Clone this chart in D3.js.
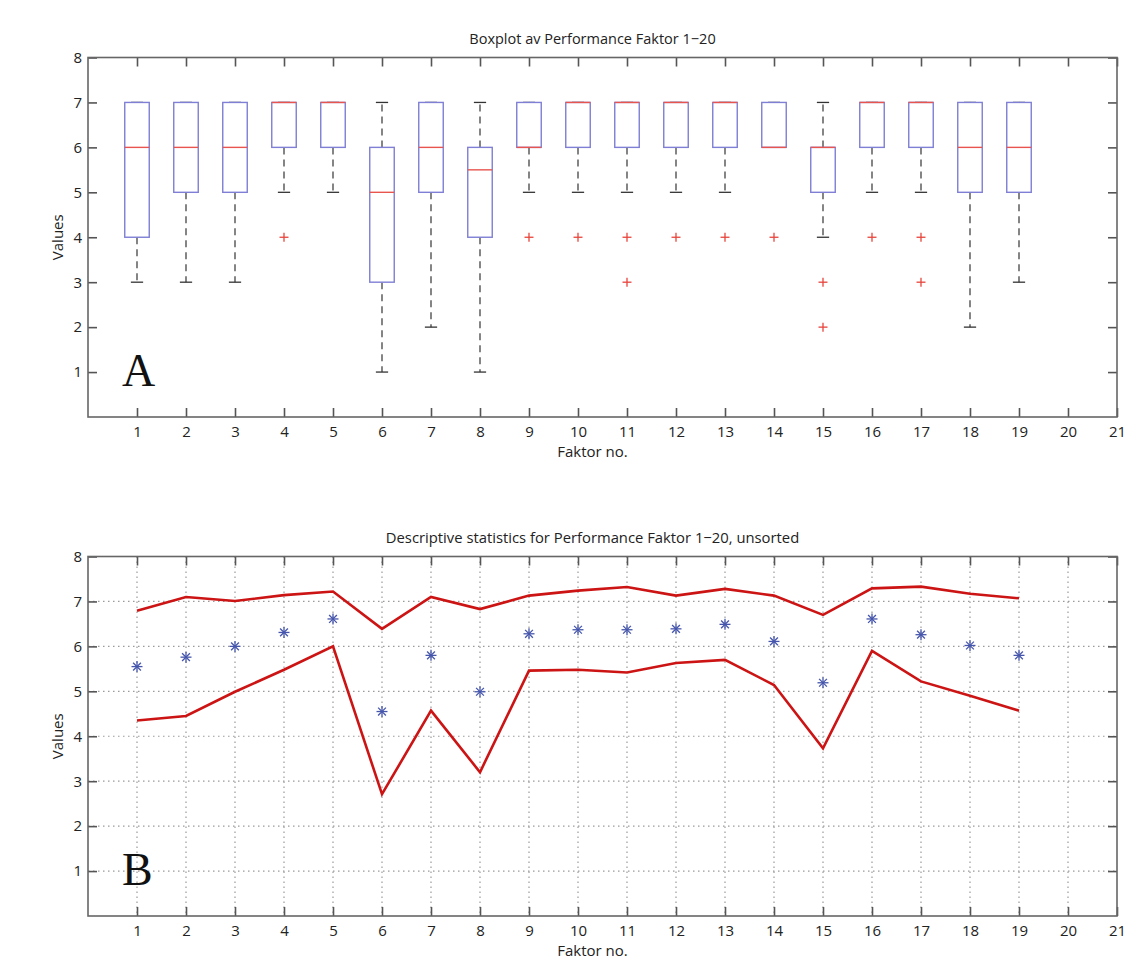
<!DOCTYPE html>
<html>
<head>
<meta charset="utf-8">
<script src="https://cdn.jsdelivr.net/npm/d3@7"></script>
<style>
  html, body { margin: 0; padding: 0; background: #fff; }
  svg { display: block; }
  text { font-family: "Open Sans", "DejaVu Sans", sans-serif; fill: #222; }
</style>
</head>
<body>
<svg id="chart" width="1133" height="961"></svg>
<script>
// Faktor numbers 1–19 (axis runs to 21)
const factors = d3.range(1, 20);
const xTicks = d3.range(1, 22);
const yTicks = d3.range(1, 9);

// Boxplot summary per factor
const q1       = [4, 5, 5, 6, 6, 3, 5, 4,   6, 6, 6, 6, 6, 6, 5, 6, 6, 5, 5];
const medians  = [6, 6, 6, 7, 7, 5, 6, 5.5, 6, 7, 7, 7, 7, 6, 6, 7, 7, 6, 6];
const q3       = [7, 7, 7, 7, 7, 6, 7, 6,   7, 7, 7, 7, 7, 7, 6, 7, 7, 7, 7];
const whiskLo  = [3, 3, 3, 5, 5, 1, 2, 1,   5, 5, 5, 5, 5, 6, 4, 5, 5, 2, 3];
const whiskHi  = [7, 7, 7, 7, 7, 7, 7, 7,   7, 7, 7, 7, 7, 7, 7, 7, 7, 7, 7];
const outliers = [[], [], [], [4], [], [], [], [], [4], [4], [4, 3], [4], [4], [4], [3, 2], [4], [4, 3], [], []];

// Descriptive statistics per factor
const upperBand = [6.79, 7.10, 7.01, 7.14, 7.22, 6.39, 7.10, 6.83, 7.13, 7.24, 7.32, 7.13, 7.28, 7.13, 6.70, 7.29, 7.33, 7.17, 7.07];
const means     = [5.55, 5.76, 6.00, 6.31, 6.61, 4.55, 5.80, 4.99, 6.28, 6.37, 6.37, 6.39, 6.49, 6.11, 5.19, 6.61, 6.26, 6.02, 5.80];
const lowerBand = [4.35, 4.45, 4.99, 5.48, 6.00, 2.71, 4.57, 3.20, 5.46, 5.48, 5.42, 5.63, 5.70, 5.14, 3.73, 5.90, 5.22, 4.90, 4.57];

const svg = d3.select("#chart");
const left = 88, right = 1117;
const x = d3.scaleLinear().domain([0, 21]).range([left, right]);
const tickLen = 9;
const font = '"Open Sans", "DejaVu Sans", sans-serif';

function drawFrame(g, y, title, letter, grid) {
  const top = y.range()[1], bottom = y.range()[0];

  if (grid) {
    g.append("g").selectAll("line").data(xTicks.slice(0, 20)).join("line")
      .attr("x1", d => x(d)).attr("x2", d => x(d))
      .attr("y1", top).attr("y2", bottom)
      .attr("stroke", "#9a9a9a").attr("stroke-width", 1.2)
      .attr("stroke-dasharray", "1.5,3.5");
    g.append("g").selectAll("line").data(yTicks.slice(0, 7)).join("line")
      .attr("x1", left).attr("x2", right)
      .attr("y1", d => y(d)).attr("y2", d => y(d))
      .attr("stroke", "#9a9a9a").attr("stroke-width", 1.2)
      .attr("stroke-dasharray", "1.5,3.5");
  }

  // ticks point inward on all four sides; labels on bottom and left only
  const xb = g.append("g").attr("transform", `translate(0,${bottom})`)
    .call(d3.axisBottom(x).tickValues(xTicks).tickSize(-tickLen).tickPadding(9).tickFormat(d3.format("d")));
  const xt = g.append("g").attr("transform", `translate(0,${top})`)
    .call(d3.axisTop(x).tickValues(xTicks).tickSize(-tickLen).tickFormat(""));
  const yl = g.append("g").attr("transform", `translate(${left},0)`)
    .call(d3.axisLeft(y).tickValues(yTicks).tickSize(-tickLen).tickPadding(6).tickFormat(d3.format("d")));
  const yr = g.append("g").attr("transform", `translate(${right},0)`)
    .call(d3.axisRight(y).tickValues(yTicks).tickSize(-tickLen).tickFormat(""));
  [xb, xt, yl, yr].forEach(a => {
    a.select(".domain").remove();
    a.selectAll("line").attr("stroke", "#555").attr("stroke-width", 1.6);
    a.selectAll("text").style("font-size", "15px").style("fill", "#222").style("font-family", font);
  });

  g.append("rect").attr("x", left).attr("y", top)
    .attr("width", right - left).attr("height", bottom - top)
    .attr("fill", "none").attr("stroke", "#666").attr("stroke-width", 1.6);

  g.append("text").attr("x", (left + right) / 2 - 10).attr("y", top - 14)
    .attr("text-anchor", "middle").style("font-size", title.length > 40 ? "14.8px" : "14.5px").text(title);
  g.append("text").attr("x", (left + right) / 2 - 10).attr("y", bottom + 40)
    .attr("text-anchor", "middle").style("font-size", "15px").text("Faktor no.");
  g.append("text")
    .attr("transform", `translate(63,${(top + bottom) / 2}) rotate(-90)`)
    .attr("text-anchor", "middle").style("font-size", "15px").text("Values");
  g.append("text").attr("x", 122).attr("y", bottom - 31)
    .style("font-family", '"Liberation Serif", "DejaVu Serif", serif')
    .style("font-size", "46px").style("fill", "#111").text(letter);
}

// ---- Panel A: boxplots ----
const yA = d3.scaleLinear().domain([0, 8]).range([417, 57.5]);
const gA = svg.append("g");
drawFrame(gA, yA, "Boxplot av Performance Faktor 1\u221220", "A", false);

const boxW = (x(1) - x(0)) * 0.5;
const capW = (x(1) - x(0)) * 0.25;
const boxes = gA.append("g").selectAll("g").data(factors).join("g");

// dashed whiskers below and above each box
boxes.append("line")
  .attr("x1", d => x(d)).attr("x2", d => x(d))
  .attr("y1", (d, i) => yA(q1[i])).attr("y2", (d, i) => yA(whiskLo[i]))
  .attr("stroke", "#444").attr("stroke-width", 1.3).attr("stroke-dasharray", "7,5");
boxes.append("line")
  .attr("x1", d => x(d)).attr("x2", d => x(d))
  .attr("y1", (d, i) => yA(q3[i])).attr("y2", (d, i) => yA(whiskHi[i]))
  .attr("stroke", "#444").attr("stroke-width", 1.3).attr("stroke-dasharray", "7,5");
// whisker caps
boxes.append("line")
  .attr("x1", d => x(d) - capW / 2).attr("x2", d => x(d) + capW / 2)
  .attr("y1", (d, i) => yA(whiskLo[i])).attr("y2", (d, i) => yA(whiskLo[i]))
  .attr("stroke", "#333").attr("stroke-width", 1.3);
boxes.append("line")
  .attr("x1", d => x(d) - capW / 2).attr("x2", d => x(d) + capW / 2)
  .attr("y1", (d, i) => yA(whiskHi[i])).attr("y2", (d, i) => yA(whiskHi[i]))
  .attr("stroke", "#333").attr("stroke-width", 1.3);
// interquartile boxes
boxes.append("rect")
  .attr("x", d => x(d) - boxW / 2).attr("width", boxW)
  .attr("y", (d, i) => yA(q3[i])).attr("height", (d, i) => yA(q1[i]) - yA(q3[i]))
  .attr("fill", "#fff").attr("stroke", "#7f7fd6").attr("stroke-width", 1.4);
// medians
boxes.append("line")
  .attr("x1", d => x(d) - boxW / 2).attr("x2", d => x(d) + boxW / 2)
  .attr("y1", (d, i) => yA(medians[i])).attr("y2", (d, i) => yA(medians[i]))
  .attr("stroke", "#e8554e").attr("stroke-width", 1.4);
// outliers as red plus signs
const outPts = factors.flatMap((d, i) => outliers[i].map(v => ({ f: d, v })));
const plus = gA.append("g").selectAll("g").data(outPts).join("g")
  .attr("transform", d => `translate(${x(d.f)},${yA(d.v)})`);
plus.append("line").attr("x1", -4.5).attr("x2", 4.5).attr("y1", 0).attr("y2", 0)
  .attr("stroke", "#e8443c").attr("stroke-width", 1.3);
plus.append("line").attr("x1", 0).attr("x2", 0).attr("y1", -4.5).attr("y2", 4.5)
  .attr("stroke", "#e8443c").attr("stroke-width", 1.3);

// ---- Panel B: descriptive statistics ----
const yB = d3.scaleLinear().domain([0, 8]).range([916, 556.5]);
const gB = svg.append("g");
drawFrame(gB, yB, "Descriptive statistics for Performance Faktor 1\u221220, unsorted", "B", true);

const line = d3.line().x((d, i) => x(factors[i])).y(d => yB(d));
[upperBand, lowerBand].forEach(s => {
  gB.append("path").datum(s).attr("d", line)
    .attr("fill", "none").attr("stroke", "#cc1414").attr("stroke-width", 2.6)
    .attr("stroke-linejoin", "miter");
});

// means drawn as asterisks
const stars = gB.append("g").selectAll("g").data(means).join("g")
  .attr("transform", (d, i) => `translate(${x(factors[i])},${yB(d)})`);
[0, 45, 90, 135].forEach(a => {
  stars.append("line")
    .attr("x1", -5.5).attr("x2", 5.5).attr("y1", 0).attr("y2", 0)
    .attr("transform", `rotate(${a})`)
    .attr("stroke", "#4656ac").attr("stroke-width", 1.3);
});
</script>
</body>
</html>
